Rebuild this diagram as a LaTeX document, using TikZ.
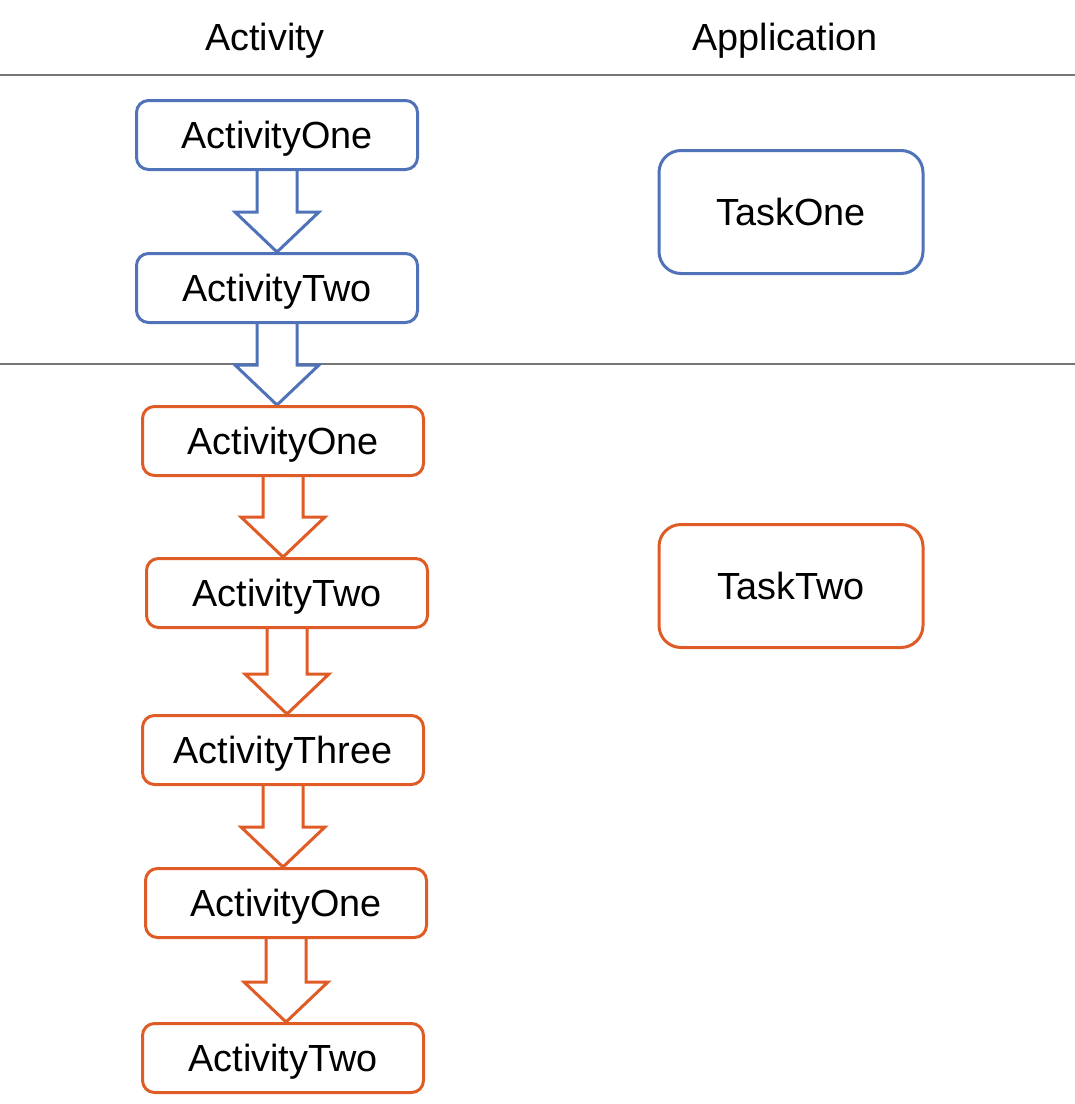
\documentclass[tikz,border=0pt]{standalone}
\usepackage{fontspec}
\setmainfont{Liberation Sans}
\usetikzlibrary{calc,backgrounds}

\definecolor{oneblue}{RGB}{80,114,184}
\definecolor{twoorange}{RGB}{224,92,38}
\definecolor{rulegray}{RGB}{118,118,118}

\tikzset{
  act/.style={draw=#1, line width=1.5pt, rounded corners=6pt, fill=white,
    minimum width=140.5pt, minimum height=34.5pt, inner sep=0pt, text depth=0pt,
    font=\fontsize{18.9}{22}\selectfont},
  task/.style={act=#1, rounded corners=11pt, minimum width=132pt, minimum height=61.5pt},
  head/.style={text depth=0pt, font=\fontsize{18.9}{22}\selectfont},
  flow/.style={draw=#1, line width=1.5pt, fill=white, line join=miter},
  sep/.style={rulegray, line width=0.75pt},
}

% hollow block arrow from the bottom of #1 down to the top of #2
\newcommand{\Flow}[3]{%
  \coordinate (tip) at (#1.south |- #2.north);
  \begin{pgfonlayer}{background}
  \draw[flow=#3] ($(#1.south)+(-20,0)$) -- ($(tip)+(-20,-40)$) -- ($(tip)+(-42,-40)$)
    -- (tip) -- ($(tip)+(42,-40)$) -- ($(tip)+(20,-40)$) -- ($(#1.south)+(20,0)$);
  \end{pgfonlayer}
}

\begin{document}
\begin{tikzpicture}[x=0.5pt, y=-0.5pt]
  \useasboundingbox (0,0) rectangle (1075,1104);

  \node[head] (hA) at (265,37) {Activity};
  \node[head] (hB) at (785,37) {Application};

  \begin{pgfonlayer}{background}
  \coordinate (l1w) at (0,75);    \coordinate (l1e) at (1075,75);
  \coordinate (l2w) at (0,364);   \coordinate (l2e) at (1075,364);
  \draw[sep] (l1w) -- (l1e);
  \draw[sep] (l2w) -- (l2e);
  \end{pgfonlayer}

  % first task
  \node[act=oneblue]  (A1) at (277,135) {ActivityOne};
  \node[act=oneblue]  (A2) at (277,288) {ActivityTwo};
  \node[task=oneblue] (T1) at (791,212) {TaskOne};

  % second task
  \node[act=twoorange]  (B1) at (283,441)  {ActivityOne};
  \node[act=twoorange]  (B2) at (287,593)  {ActivityTwo};
  \node[act=twoorange]  (B3) at (283,750)  {ActivityThree};
  \node[act=twoorange]  (B4) at (286,903)  {ActivityOne};
  \node[act=twoorange]  (B5) at (283,1058) {ActivityTwo};
  \node[task=twoorange] (T2) at (791,586)  {TaskTwo};

  \Flow{A1}{A2}{oneblue}
  \Flow{A2}{B1}{oneblue}
  \Flow{B1}{B2}{twoorange}
  \Flow{B2}{B3}{twoorange}
  \Flow{B3}{B4}{twoorange}
  \Flow{B4}{B5}{twoorange}
\end{tikzpicture}
\end{document}
